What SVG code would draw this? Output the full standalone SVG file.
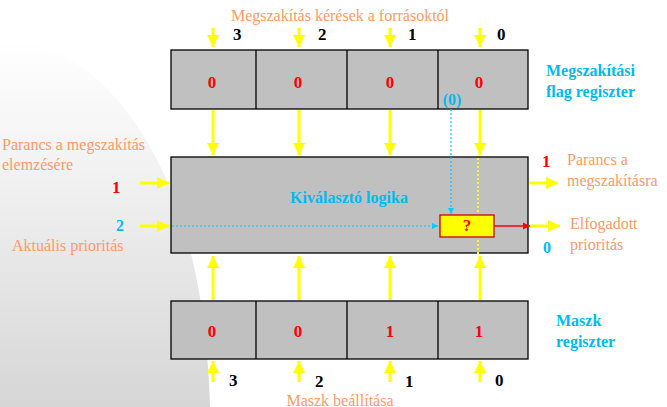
<svg xmlns="http://www.w3.org/2000/svg" width="667" height="407" viewBox="0 0 667 407">
<defs>
<linearGradient id="bg" x1="0" y1="0" x2="0" y2="1"><stop offset="0" stop-color="#ffffff"/><stop offset="0.35" stop-color="#f2f2f2"/><stop offset="1" stop-color="#d6d6d6"/></linearGradient>
<marker id="ay" viewBox="0 0 10 10" refX="10" refY="5" markerWidth="4" markerHeight="4" orient="auto"><path d="M0,0L10,5L0,10z" fill="#ffff00"/></marker>
<marker id="ac" viewBox="0 0 10 10" refX="10" refY="5" markerWidth="5" markerHeight="5" orient="auto"><path d="M0,0L10,5L0,10z" fill="#00ccff"/></marker>
<marker id="ar" viewBox="0 0 10 10" refX="10" refY="5" markerWidth="5" markerHeight="5" orient="auto"><path d="M0,0L10,5L0,10z" fill="#ff0000"/></marker>
<style>
text{font-family:"Liberation Serif","Times New Roman","DejaVu Serif",serif}
.box{fill:#c0c0c0;stroke:#000;stroke-width:1.3}
.y{stroke:#ffff00;stroke-width:3;fill:none;marker-end:url(#ay)}
.yd{stroke:#ffff00;stroke-width:2;stroke-dasharray:2,2;fill:none}
.cd{stroke:#00ccff;stroke-width:1.2;stroke-dasharray:2,2;fill:none}
.o{fill:#ff9966;font-size:16px}
.c{fill:#00bbee;font-size:16px;font-weight:bold}
.b{fill:#000;font-size:17px;font-weight:bold}
.r{fill:#ff0000;font-size:17px;font-weight:bold}
</style>
</defs>
<rect width="667" height="407" fill="#fff"/>
<path d="M0,40 C80,40 140,110 175,200 C200,270 208,340 210,407 L0,407 Z" fill="url(#bg)"/>
<g id="flag">
<rect class="box" x="171" y="50" width="357" height="59"/>
<path d="M256,50V109M347,50V109M438,50V109" stroke="#000" stroke-width="1.3"/>
<g class="r" text-anchor="middle"><text x="212" y="88">0</text><text x="298" y="88">0</text><text x="390" y="88">0</text><text x="479" y="88">0</text></g>
<text class="c" x="452" y="105" text-anchor="middle">(0)</text>
</g>
<g id="logic">
<rect class="box" x="171" y="157" width="357" height="96"/>
<text class="c" x="349" y="203" text-anchor="middle">Kiválasztó logika</text>
</g>
<g id="qbox">
<rect x="440" y="215" width="54" height="22" fill="#ffff00" stroke="#cc0000" stroke-width="1.3"/>
<text class="r" x="467" y="231" text-anchor="middle" font-size="14">?</text>
</g>
<g id="mask">
<rect class="box" x="171" y="301" width="357" height="58"/>
<path d="M256,301V359M347,301V359M438,301V359" stroke="#000" stroke-width="1.3"/>
<g class="r" text-anchor="middle"><text x="212" y="337">0</text><text x="298" y="337">0</text><text x="390" y="337">1</text><text x="479" y="337">1</text></g>
</g>
<g id="connectors">
<path class="y" d="M213,28V47"/><path class="y" d="M299,28V47"/><path class="y" d="M390,28V47"/><path class="y" d="M480,28V47"/>
<path class="y" d="M213,110V155"/><path class="y" d="M299,110V155"/><path class="y" d="M390,110V155"/><path class="y" d="M480,110V155"/>
<path class="y" d="M213,300V256"/><path class="y" d="M299,300V256"/><path class="y" d="M390,300V256"/><path class="y" d="M480,300V256"/>
<path class="y" d="M213,382V361"/><path class="y" d="M299,382V361"/><path class="y" d="M390,382V361"/><path class="y" d="M480,382V361"/>
<path class="y" d="M140,183H169"/><path class="y" d="M140,226H169"/>
<path class="y" d="M529,183H558"/><path class="y" d="M530,226H560"/>
<path class="yd" d="M478,158V214M478,254V238"/>
<path class="cd" d="M172,226H438" marker-end="url(#ac)"/>
<path class="cd" d="M451,109V214" marker-end="url(#ac)"/>
<path d="M494,226H530" stroke="#ff0000" stroke-width="1.5" marker-end="url(#ar)"/>
</g>
<g id="labels">
<text class="o" x="340" y="21" text-anchor="middle">Megszakítás kérések a forrásoktól</text>
<text class="b" x="233" y="40">3</text><text class="b" x="318" y="40">2</text><text class="b" x="408" y="40">1</text><text class="b" x="497" y="40">0</text>
<text class="c" x="546" y="76">Megszakítási</text>
<text class="c" x="546" y="97">flag regiszter</text>
<text class="o" x="2" y="150">Parancs a megszakítás</text>
<text class="o" x="2" y="170">elemzésére</text>
<text class="r" x="112" y="193" font-size="22">1</text>
<text class="c" x="116" y="231">2</text>
<text class="o" x="12" y="251">Aktuális prioritás</text>
<text class="r" x="542" y="167" font-size="22">1</text>
<text class="o" x="567" y="165">Parancs a</text>
<text class="o" x="567" y="186">megszakításra</text>
<text class="o" x="570" y="229">Elfogadott</text>
<text class="o" x="570" y="250">prioritás</text>
<text class="c" x="543" y="253" font-size="17">0</text>
<text class="c" x="556" y="326">Maszk</text>
<text class="c" x="556" y="347">regiszter</text>
<text class="b" x="229" y="386">3</text><text class="b" x="315" y="387">2</text><text class="b" x="405" y="387">1</text><text class="b" x="495" y="386">0</text>
<text class="o" x="340" y="406" text-anchor="middle">Maszk  beállítása</text>
</g>
</svg>
